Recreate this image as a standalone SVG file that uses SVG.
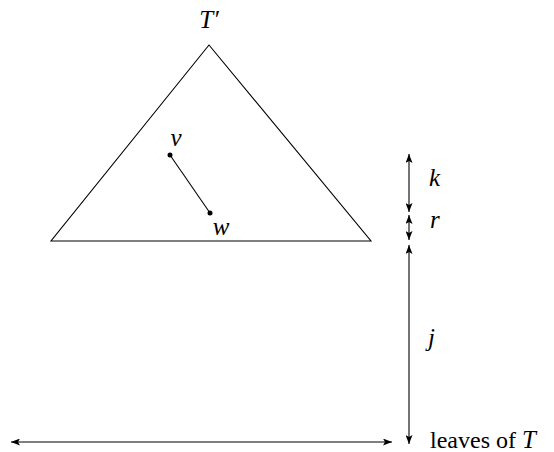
<svg xmlns="http://www.w3.org/2000/svg" width="554" height="452" viewBox="0 0 554 452">
<style>
.ln{stroke:#000;stroke-width:1.1;fill:none}
.m{font-family:"Liberation Serif","DejaVu Serif",serif;font-style:italic;font-size:25px;fill:#000}
.t{font-family:"Liberation Serif","DejaVu Serif",serif;font-size:24px;fill:#000}
</style>
<defs>
<marker id="ah" viewBox="0 0 9 7" refX="9" refY="3.5" markerWidth="9" markerHeight="7" markerUnits="userSpaceOnUse" orient="auto-start-reverse">
<path d="M0,0 L9,3.5 L0,7 L2,3.5 Z" fill="#000"/>
</marker>
</defs>
<rect width="554" height="452" fill="#fff"/>
<g id="triangle">
<polygon class="ln" points="209,45 51,241 371,241"/>
<text class="m" x="209" y="28" text-anchor="middle">T′</text>
</g>
<g id="v">
<circle cx="170" cy="155" r="2.5" fill="#000"/>
<text class="m" x="176" y="146" text-anchor="middle">v</text>
</g>
<g id="w">
<circle cx="210" cy="213" r="2.5" fill="#000"/>
<text class="m" x="221" y="235" text-anchor="middle">w</text>
</g>
<g id="connectors">
<line class="ln" x1="409" y1="154" x2="409" y2="212" marker-start="url(#ah)" marker-end="url(#ah)"/>
<line class="ln" x1="170" y1="155" x2="210" y2="213"/>
<line class="ln" x1="409" y1="215" x2="409" y2="240" marker-start="url(#ah)" marker-end="url(#ah)"/>
<line class="ln" x1="409" y1="245" x2="409" y2="444" marker-start="url(#ah)" marker-end="url(#ah)"/>
<line class="ln" x1="11" y1="442" x2="392" y2="442" marker-start="url(#ah)" marker-end="url(#ah)"/>
</g>
<g id="labels">
<text class="m" x="429" y="186">k</text>
<text class="m" x="430" y="228">r</text>
<text class="m" x="428" y="346">j</text>
<text class="t" x="430" y="448">leaves of <tspan class="m">T</tspan></text>
</g>
</svg>
